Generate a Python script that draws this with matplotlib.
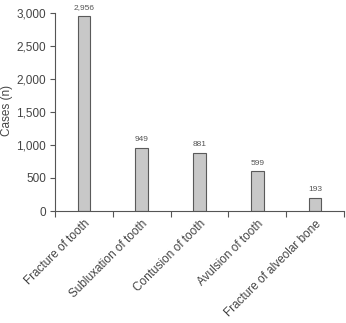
import matplotlib
matplotlib.use("Agg")
import matplotlib.pyplot as plt
import numpy as np

categories = ["Fracture of tooth", "Subluxation of tooth", "Contusion of tooth",
              "Avulsion of tooth", "Fracture of alveolar bone"]
values = [2956, 949, 881, 599, 193]
value_labels = ["2,956", "949", "881", "599", "193"]
yticks = [0, 500, 1000, 1500, 2000, 2500, 3000]
ytick_labels = ["0", "500", "1,000", "1,500", "2,000", "2,500", "3,000"]

plt.rcParams['font.family'] = ['Liberation Sans', 'DejaVu Sans']
fig = plt.figure(figsize=(3.46, 3.23), dpi=100)
ax = fig.add_axes([55/346, 1 - 211/323, (344-55)/346, (211-13)/323])

x = np.arange(len(categories))
ax.bar(x, values, width=0.22, color="#c8c8c8", edgecolor="#5a5a5a", linewidth=0.8)
for xi, v, lab in zip(x, values, value_labels):
    ax.text(xi, v + 75, lab, ha="center", va="bottom", fontsize=6, color="#555555")

ax.set_xlim(-0.5, len(categories) - 0.5)
ax.set_ylim(0, 3000)
ax.set_yticks(yticks)
ax.set_yticklabels(ytick_labels, fontsize=8.5, color="#444444")
ax.set_xticks(np.arange(len(categories) + 1) - 0.5)
ax.set_xticklabels([])
ax.set_xticks(x, minor=True)
ax.set_xticklabels(categories, minor=True, rotation=45, ha="right", rotation_mode="anchor",
                   fontsize=8.5, color="#444444")
ax.tick_params(axis="x", which="minor", length=0, pad=5)
ax.tick_params(axis="x", which="major", length=4, color="#555555", direction="out")
ax.tick_params(axis="y", length=3.5, color="#555555", direction="out", pad=3)
ax.set_ylabel("Cases (n)", fontsize=8.5, color="#444444")
ax.yaxis.set_label_coords(-0.147, 0.51)
for s in ["top", "right"]:
    ax.spines[s].set_visible(False)
for s in ["left", "bottom"]:
    ax.spines[s].set_color("#555555")
    ax.spines[s].set_linewidth(0.8)

fig.savefig("out.png", dpi=100)
